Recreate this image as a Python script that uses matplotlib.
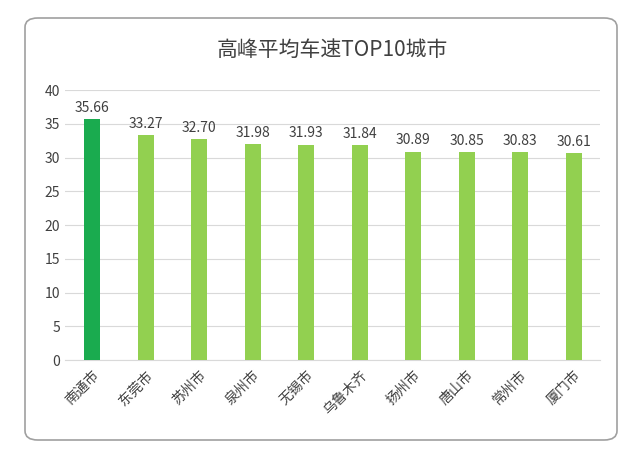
import matplotlib
matplotlib.use("Agg")
import matplotlib.pyplot as plt
from matplotlib import font_manager as fm
from matplotlib.patches import FancyBboxPatch

fam = "DejaVu Sans"
for f in fm.findSystemFonts():
    if "CJK" in f and ("SC" in f or "ttc" in f.lower()):
        try:
            fm.fontManager.addfont(f)
        except Exception:
            pass
names = {f.name for f in fm.fontManager.ttflist}
for n in ["Noto Sans CJK SC", "Noto Sans CJK JP", "Noto Sans CJK TC", "Noto Sans CJK KR"]:
    if n in names:
        fam = n
        break
plt.rcParams["font.family"] = [fam, "DejaVu Sans"]

cities = ["南通市", "东莞市", "苏州市", "泉州市", "无锡市", "乌鲁木齐", "扬州市", "唐山市", "常州市", "厦门市"]
speeds = [35.66, 33.27, 32.70, 31.98, 31.93, 31.84, 30.89, 30.85, 30.83, 30.61]
title = "高峰平均车速TOP10城市"

fig = plt.figure(figsize=(6.4, 4.57), dpi=100)
fig.patches.append(FancyBboxPatch((25/640, 1-440/457), 592/640, 422/457,
                                  boxstyle="round,pad=0,rounding_size=0.02",
                                  transform=fig.transFigure, fill=False,
                                  edgecolor="#a0a0a0", linewidth=1.2))
ax = fig.add_axes([0.102, 0.212, 0.836, 0.591])
colors = ["#1aab4f"] + ["#92d050"] * (len(cities) - 1)
x = range(len(cities))
ax.bar(x, speeds, width=0.3, color=colors, zorder=3)
for i, v in zip(x, speeds):
    ax.text(i, v + 0.6, f"{v:.2f}", ha="center", va="bottom", fontsize=10, color="#404040")
ax.set_ylim(0, 40)
ax.set_xlim(-0.5, len(cities) - 0.5)
ax.set_yticks(range(0, 41, 5))
ax.yaxis.grid(True, color="#d9d9d9", linewidth=0.8, zorder=0)
ax.set_xticks(list(x))
ax.set_xticklabels(cities, rotation=45, ha="right", rotation_mode="anchor", fontsize=10, color="#404040")
ax.tick_params(axis="y", labelsize=10, colors="#404040", length=0)
ax.tick_params(axis="x", length=0, pad=6)
for s in ["top", "right", "left"]:
    ax.spines[s].set_visible(False)
ax.spines["bottom"].set_color("#d9d9d9")
fig.text(0.52, 1-50/457, title, ha="center", va="center", fontsize=15, color="#404040")
fig.savefig("out.png", dpi=100)
